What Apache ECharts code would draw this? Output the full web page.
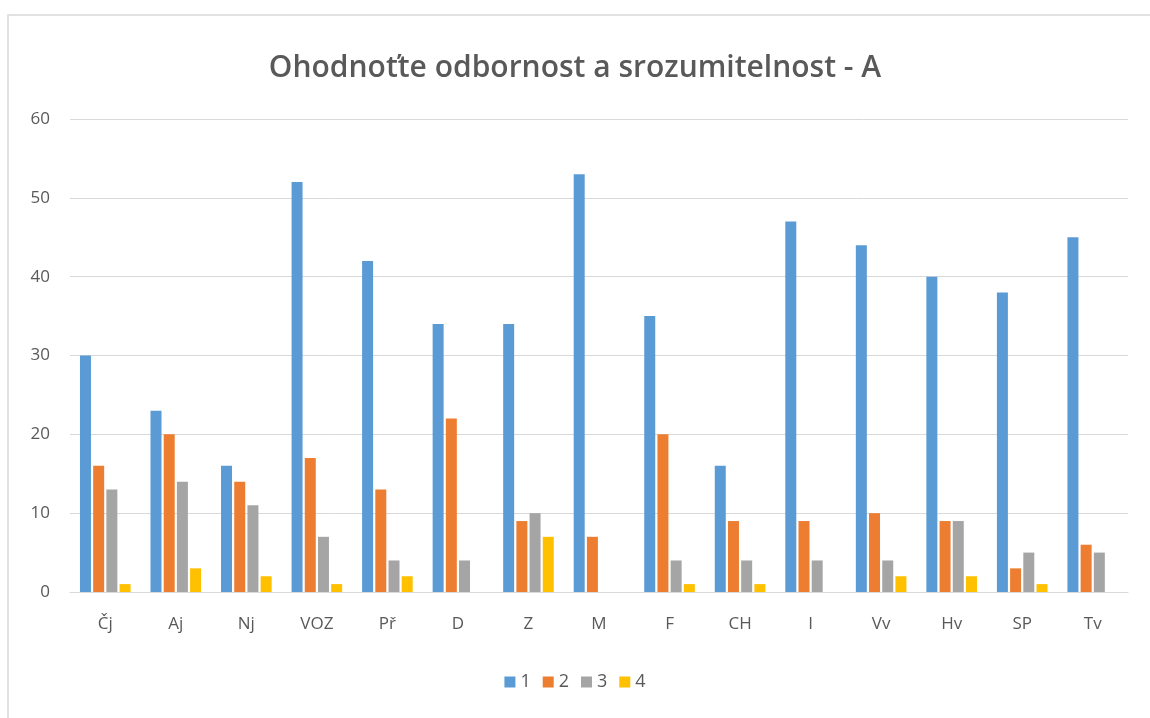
<!DOCTYPE html>
<html>
<head>
<meta charset="utf-8">
<script src="https://cdn.jsdelivr.net/npm/echarts@6/dist/echarts.min.js"></script>
<style>
  html, body { margin: 0; padding: 0; background: #fff; }
  #chart { width: 1150px; height: 718px; }
</style>
</head>
<body>
<div id="chart"></div>
<script>
const subjects = ['Čj', 'Aj', 'Nj', 'VOZ', 'Př', 'D', 'Z', 'M', 'F', 'CH', 'I', 'Vv', 'Hv', 'SP', 'Tv']
const grade1 = [30, 23, 16, 52, 42, 34, 34, 53, 35, 16, 47, 44, 40, 38, 45]
const grade2 = [16, 20, 14, 17, 13, 22, 9, 7, 20, 9, 9, 10, 9, 3, 6]
const grade3 = [13, 14, 11, 7, 4, 4, 10, 0, 4, 4, 4, 4, 9, 5, 5]
const grade4 = [1, 3, 2, 1, 2, 0, 7, 0, 1, 1, 0, 2, 2, 1, 0]

const seriesNames = ['1', '2', '3', '4']
const seriesColors = ['#5B9BD5', '#ED7D31', '#A5A5A5', '#FFC000']
const seriesData = [grade1, grade2, grade3, grade4]

const textColor = '#595959'
const font = '"Open Sans", "Noto Sans", sans-serif'

const chart = echarts.init(document.getElementById('chart'))
const option = {
  animation: false,
  backgroundColor: '#fff',
  graphic: [{
    type: 'rect',
    shape: { x: 8, y: 15, width: 1160, height: 720 },
    style: { fill: 'none', stroke: '#d9d9d9', lineWidth: 1.5 },
    silent: true
  }],
  title: {
    text: 'Ohodnoťte odbornost a srozumitelnost - A',
    left: 'center',
    top: 48,
    textStyle: {
      color: textColor,
      fontFamily: font,
      fontSize: 30,
      fontWeight: 600
    }
  },
  legend: {
    data: seriesNames,
    bottom: 22,
    left: 'center',
    icon: 'rect',
    itemWidth: 11,
    itemHeight: 11,
    itemGap: 12,
    textStyle: { color: textColor, fontFamily: font, fontSize: 18 }
  },
  grid: {
    left: 70,
    right: 22,
    top: 119,
    bottom: 126,
    containLabel: false
  },
  xAxis: {
    type: 'category',
    data: subjects,
    axisLine: { lineStyle: { color: '#d9d9d9' } },
    axisTick: { show: false },
    axisLabel: {
      color: textColor,
      fontFamily: font,
      fontSize: 17,
      margin: 24
    }
  },
  yAxis: {
    type: 'value',
    min: 0,
    max: 60,
    interval: 10,
    axisLine: { show: false },
    axisTick: { show: false },
    axisLabel: {
      color: textColor,
      fontFamily: font,
      fontSize: 17,
      margin: 20
    },
    splitLine: { lineStyle: { color: '#d9d9d9', width: 1 } }
  },
  series: seriesData.map((data, i) => ({
    name: seriesNames[i],
    type: 'bar',
    data: data,
    barWidth: 11,
    barGap: '20%',
    itemStyle: { color: seriesColors[i] }
  }))
}
chart.setOption(option)
</script>
</body>
</html>
